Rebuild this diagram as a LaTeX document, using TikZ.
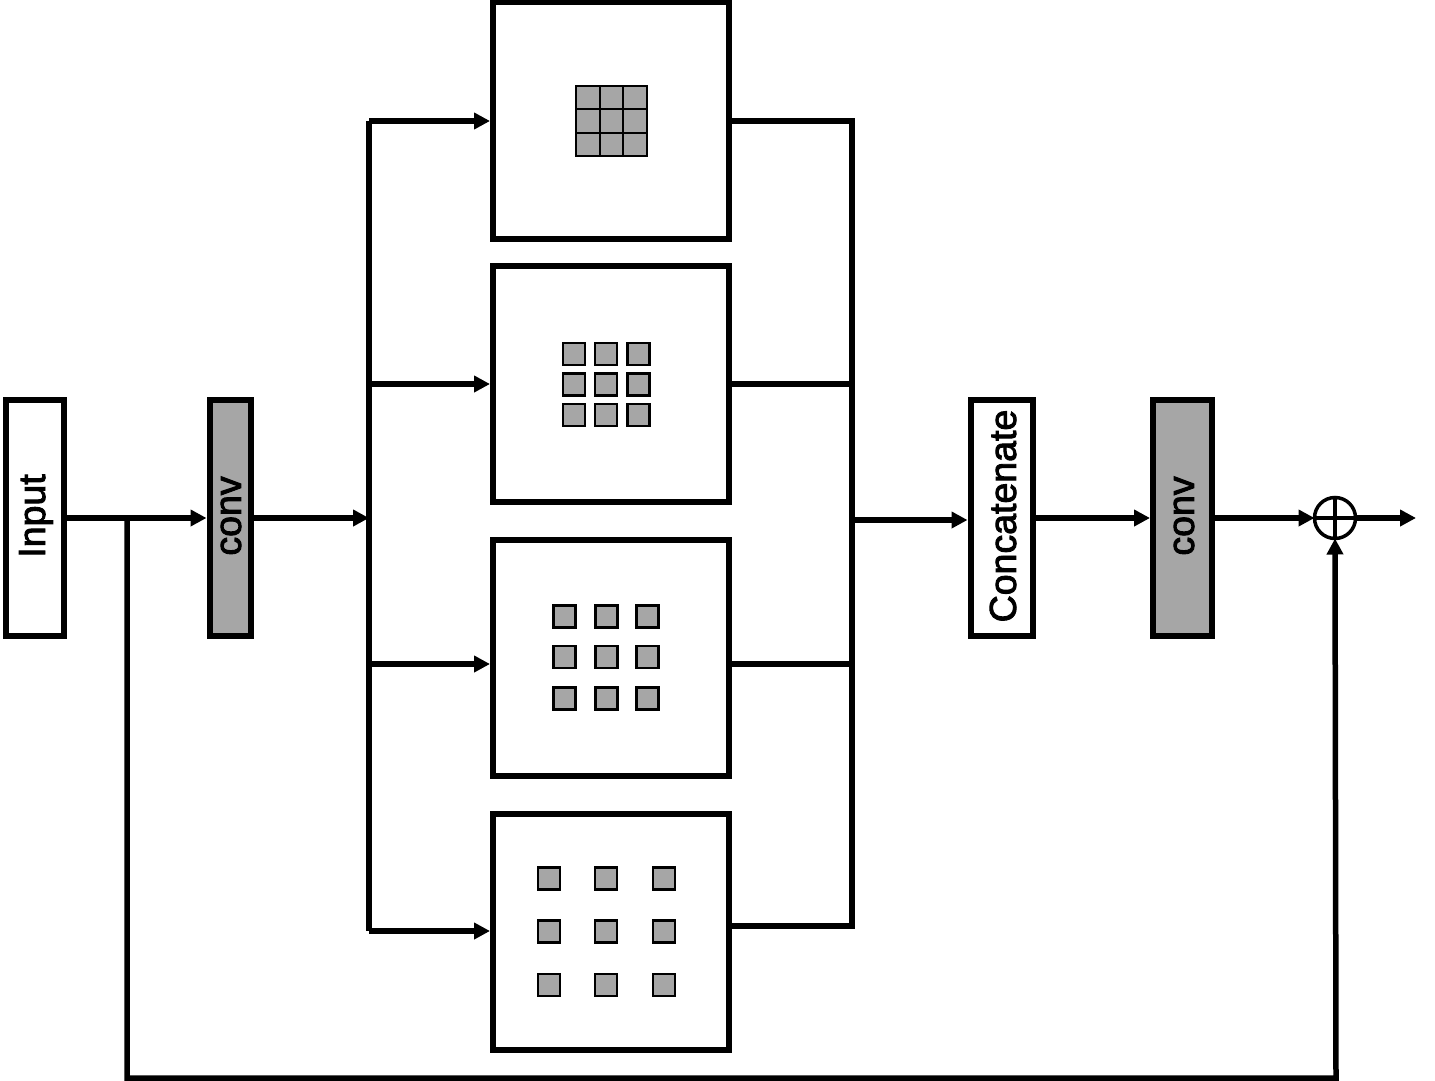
\documentclass[tikz,border=0pt]{standalone}
\usepackage{fontspec}
\setmainfont{Liberation Sans}
\newfontfamily\lblfont{Liberation Sans}[FakeBold=2.5]
\usetikzlibrary{arrows.meta}
\definecolor{cgray}{RGB}{166,166,166}
\begin{document}
\begin{tikzpicture}[x=1pt,y=-1pt,line width=5.5pt,
  blk/.style={draw,line width=6pt,inner sep=0pt,minimum height=236pt},
  featbox/.style={draw,line width=6pt,inner sep=0pt,minimum width=236pt,minimum height=236pt},
  lbl/.style={rotate=90,inner sep=0pt,font=\lblfont\fontsize{37.5}{40}\selectfont},
  arr/.style={-{Triangle[length=16pt,width=16pt]}},
  sq/.style={draw,fill=cgray,line width=2.5pt},
  gr/.style={line width=2.2pt}]
\useasboundingbox (0,0) rectangle (1435,1081);

% main blocks
\node[blk,minimum width=58pt] (in) at (34.5,518) {};
\node[lbl] (inT) at (36,516) {Input};
\node[blk,fill=cgray,minimum width=41pt] (c1) at (230,518) {};
\node[lbl] (c1T) at (231,516) {conv};
\node[blk,fill=cgray,minimum width=59pt] (c2) at (1182.5,518) {};
\node[lbl] (c2T) at (1184,516) {conv};
\node[blk,minimum width=62.5pt] (cat) at (1001.75,518) {};
\node[lbl] (catT) at (1003,516) {Concatenate};
\node[draw,circle,line width=3.5pt,minimum size=41pt,inner sep=0pt,outer sep=0pt] (sum) at (1335,518) {};
\draw[line width=3.5pt] (sum.north) -- (sum.south) (sum.west) -- (sum.east);

% feature boxes
\node[featbox] (b1) at (611,120.5) {};
\node[featbox] (b2) at (611,383.5) {};
\node[featbox] (b3) at (611,658) {};
\node[featbox] (b4) at (611,932) {};

% bus coordinates
\coordinate (j0) at (127,518);
\coordinate (busL) at (369,518);
\coordinate (l1) at (369,121);
\coordinate (l2) at (369,384);
\coordinate (l3) at (369,664);
\coordinate (l4) at (369,931);
\coordinate (r1) at (852,121);
\coordinate (r2) at (852,384);
\coordinate (r3) at (852,664);
\coordinate (r4) at (852,926);
\coordinate (rc) at (852,520);
\coordinate (fb1) at (127,1078);
\coordinate (fb2) at (1336,1078);
\coordinate (out) at (1416,518);

% connectors
\draw[arr] (in.east) -- (c1.west);
\draw[arr] (c1.east) -- (busL);
\draw (l1) -- (l4);
\draw[arr] (l1) -- (l1 -| b1.west);
\draw[arr] (l2) -- (l2 -| b2.west);
\draw[arr] (l3) -- (l3 -| b3.west);
\draw[arr] (l4) -- (l4 -| b4.west);
\draw (r1 -| b1.east) -- (r1) -- (r4) -- (r4 -| b4.east);
\draw (r2 -| b2.east) -- (r2);
\draw (r3 -| b3.east) -- (r3);
\draw[arr] (rc) -- (rc -| cat.west);
\draw[arr] (cat.east) -- (c2.west);
\draw[arr] (c2.east) -- (sum.west);
\draw[arr] (sum.east) -- (out);
\draw[arr] (j0) -- (fb1) -- (fb2) -- (sum.south);

% box 1: contiguous 3x3 grid
\filldraw[fill=cgray,gr] (576,86) rectangle (647,156);
\draw[gr] (599.7,86) -- (599.7,156) (623.3,86) -- (623.3,156)
          (576,109.3) -- (647,109.3) (576,132.7) -- (647,132.7);

% box 2
\foreach \x in {574,606,638.5}
  \foreach \y in {354,384.5,415}
    \draw[sq] (\x-11,\y-11) rectangle (\x+11,\y+11);
% box 3
\foreach \x in {564.5,606.5,647.5}
  \foreach \y in {616.5,657,698.5}
    \draw[sq] (\x-11,\y-11) rectangle (\x+11,\y+11);
% box 4
\foreach \x in {549,606,664}
  \foreach \y in {878.5,931.5,985}
    \draw[sq] (\x-11,\y-11) rectangle (\x+11,\y+11);
\end{tikzpicture}
\end{document}
